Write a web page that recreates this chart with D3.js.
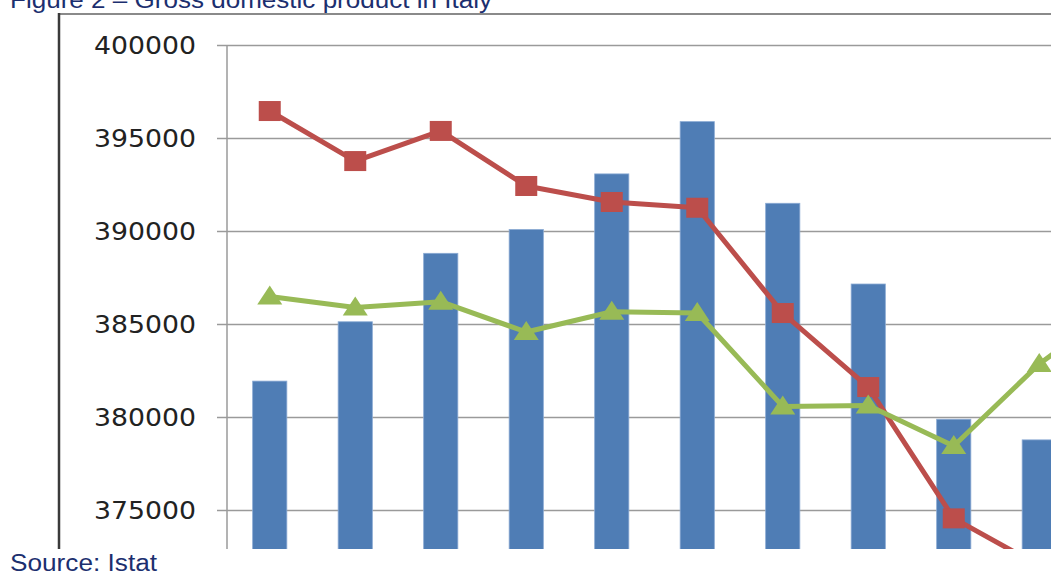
<!DOCTYPE html>
<html>
<head>
<meta charset="utf-8">
<script src="https://cdn.jsdelivr.net/npm/d3@7"></script>
<style>
  html, body { margin: 0; padding: 0; background: #fff; }
  svg { display: block; }
</style>
</head>
<body>
<svg id="chart" width="1051" height="572"></svg>
<script>
// ---- data ----
const categories = ["1", "2", "3", "4", "5", "6", "7", "8", "9", "10", "11"];
const barValues = [381930, 385120, 388800, 390080, 393070, 395880, 391490, 387150, 379880, 378770];
const redValues = [396450, 393760, 395380, 392420, 391560, 391250, 385590, 381610, 374550, 372000];
const greenValues = [386480, 385890, 386200, 384570, 385660, 385590, 380570, 380620, 378440, 382850, 386200];
const yTicks = [375000, 380000, 385000, 390000, 395000, 400000];
const titleText = "Figure 2 \u2013 Gross domestic product in Italy";
const sourceText = "Source: Istat";

// ---- layout ----
const svg = d3.select("#chart");
const W = 1051, H = 572;
const plotLeft = 227, plotTop = 45, plotBottom = 549;
const step = 85.5;

const x = d3.scaleBand()
  .domain(categories)
  .range([plotLeft, plotLeft + categories.length * step])
  .paddingInner(0.6)
  .paddingOuter(0.3);

const y = d3.scaleLinear()
  .domain([370000, 400000])
  .range([plotTop + 558, plotTop]);

const navy = "#1c2f6f";

// title
svg.append("text")
  .attr("x", 10).attr("y", 7.5)
  .attr("font-family", "Liberation Sans, Arial, sans-serif")
  .attr("font-size", 23)
  .attr("fill", navy)
  .attr("textLength", 482)
  .attr("lengthAdjust", "spacingAndGlyphs")
  .text(titleText);

// chart frame
svg.append("line")
  .attr("x1", 59).attr("x2", W).attr("y1", 14).attr("y2", 14)
  .attr("stroke", "#8a8a8a").attr("stroke-width", 2);
svg.append("line")
  .attr("x1", 59).attr("x2", 59).attr("y1", 13).attr("y2", plotBottom)
  .attr("stroke", "#3a3a3a").attr("stroke-width", 2.5);

// clip for plot area
svg.append("defs").append("clipPath").attr("id", "plotclip")
  .append("rect").attr("x", plotLeft - 12).attr("y", 0)
  .attr("width", W - plotLeft + 12).attr("height", plotBottom);

const g = svg.append("g").attr("clip-path", "url(#plotclip)");

// gridlines + ticks
const yAxis = d3.axisLeft(y).tickValues(yTicks).tickSize(-(W - plotLeft)).tickFormat("");
const ax = g.append("g").attr("transform", `translate(${plotLeft},0)`).call(yAxis);
ax.select(".domain").remove();
ax.selectAll(".tick line").attr("stroke", "#9a9a9a").attr("stroke-width", 1.5);
const tickMarks = d3.axisLeft(y).tickValues(yTicks).tickSize(10).tickFormat("");
const ax2 = g.append("g").attr("transform", `translate(${plotLeft},0)`).call(tickMarks);
ax2.select(".domain").remove();
ax2.selectAll(".tick line").attr("stroke", "#9a9a9a").attr("stroke-width", 1.5);

// vertical axis line
g.append("line")
  .attr("x1", plotLeft).attr("x2", plotLeft)
  .attr("y1", plotTop).attr("y2", plotBottom)
  .attr("stroke", "#9a9a9a").attr("stroke-width", 1.5);

// tick labels
svg.append("g").selectAll("text")
  .data(yTicks)
  .join("text")
  .attr("x", 196)
  .attr("y", d => y(d))
  .attr("dy", "0.36em")
  .attr("text-anchor", "end")
  .attr("font-family", "DejaVu Sans, Verdana, sans-serif")
  .attr("font-size", 24.5)
  .attr("fill", "#222")
  .attr("textLength", 102)
  .attr("lengthAdjust", "spacingAndGlyphs")
  .text(d => d);

// bars
g.append("g").selectAll("rect")
  .data(barValues)
  .join("rect")
  .attr("x", (d, i) => x(categories[i]))
  .attr("width", x.bandwidth())
  .attr("y", d => y(d))
  .attr("height", d => y(370000) - y(d))
  .attr("fill", "#4f7db5")
  .attr("stroke", "#8aaad3")
  .attr("stroke-width", 0.8);

const cx = i => x(categories[i]) + x.bandwidth() / 2;

// red line
const redLine = d3.line().x((d, i) => cx(i)).y(d => y(d));
g.append("path")
  .datum(redValues)
  .attr("d", redLine)
  .attr("fill", "none")
  .attr("stroke", "#bc4e4b")
  .attr("stroke-width", 5)
  .attr("stroke-linejoin", "round");
g.append("g").selectAll("rect")
  .data(redValues)
  .join("rect")
  .attr("x", (d, i) => cx(i) - 11)
  .attr("y", d => y(d) - 10)
  .attr("width", 22)
  .attr("height", 20)
  .attr("fill", "#bc4e4b");

// green line
g.append("path")
  .datum(greenValues)
  .attr("d", redLine)
  .attr("fill", "none")
  .attr("stroke", "#98ba56")
  .attr("stroke-width", 5)
  .attr("stroke-linejoin", "round");
g.append("g").selectAll("path")
  .data(greenValues)
  .join("path")
  .attr("transform", (d, i) => `translate(${cx(i)},${y(d)})`)
  .attr("d", "M0,-11 L12.5,8 L-12.5,8 Z")
  .attr("fill", "#98ba56");

// source
svg.append("text")
  .attr("x", 10).attr("y", 571)
  .attr("font-family", "Liberation Sans, Arial, sans-serif")
  .attr("font-size", 23)
  .attr("fill", navy)
  .attr("textLength", 147)
  .attr("lengthAdjust", "spacingAndGlyphs")
  .text(sourceText);
</script>
</body>
</html>
